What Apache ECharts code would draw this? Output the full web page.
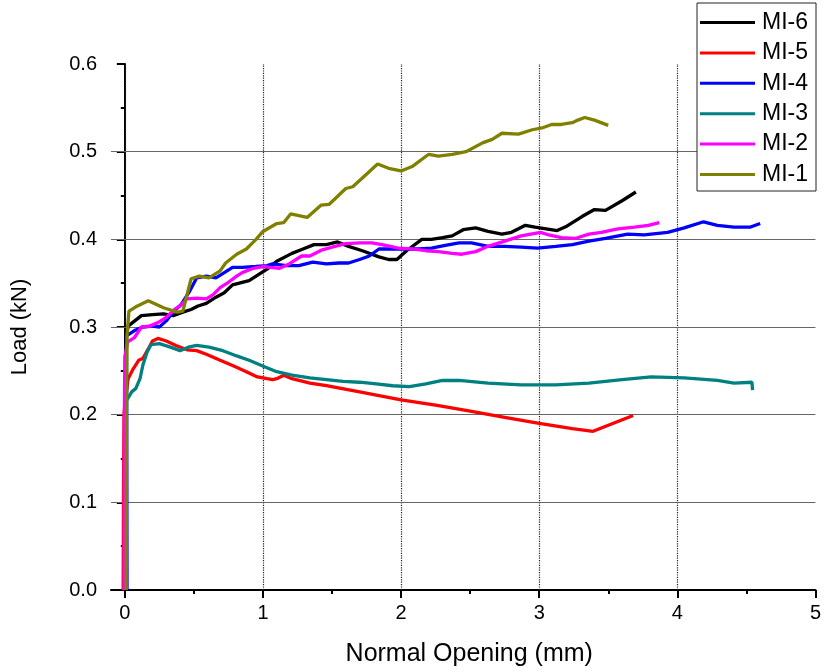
<!DOCTYPE html>
<html>
<head>
<meta charset="utf-8">
<script src="https://cdn.jsdelivr.net/npm/echarts@6/dist/echarts.min.js"></script>
<style>
  html, body { margin: 0; padding: 0; background: #fff; }
  #chart { width: 824px; height: 672px; }
</style>
</head>
<body>
<div id="chart"></div>
<script>
// series names, legend order (top to bottom)
var seriesNames = ['MI-6', 'MI-5', 'MI-4', 'MI-3', 'MI-2', 'MI-1']

// [opening mm, load kN]
var mi6 = [[0.005, 0], [0.008, 0.2], [0.012, 0.29], [0.024, 0.301], [0.12, 0.313], [0.2, 0.314], [0.28, 0.315], [0.35, 0.313], [0.42, 0.317], [0.48, 0.32], [0.53, 0.324], [0.59, 0.327], [0.66, 0.334], [0.72, 0.339], [0.78, 0.348], [0.85, 0.351], [0.9, 0.353], [0.97, 0.36], [1.03, 0.366], [1.1, 0.375], [1.21, 0.384], [1.29, 0.389], [1.37, 0.394], [1.46, 0.394], [1.54, 0.397], [1.62, 0.392], [1.72, 0.387], [1.84, 0.38], [1.91, 0.377], [1.97, 0.377], [2.04, 0.387], [2.15, 0.4], [2.22, 0.4], [2.3, 0.402], [2.37, 0.404], [2.45, 0.411], [2.54, 0.413], [2.63, 0.409], [2.73, 0.406], [2.8, 0.408], [2.9, 0.416], [2.97, 0.414], [3.05, 0.412], [3.13, 0.41], [3.2, 0.415], [3.31, 0.426], [3.4, 0.434], [3.48, 0.433], [3.6, 0.444], [3.7, 0.454]]
var mi5 = [[-0.012, 0], [-0.01, 0.1], [-0.006, 0.2], [0.0, 0.211], [0.024, 0.241], [0.06, 0.252], [0.1, 0.262], [0.13, 0.264], [0.17, 0.275], [0.2, 0.284], [0.24, 0.287], [0.3, 0.284], [0.37, 0.279], [0.45, 0.274], [0.52, 0.273], [0.59, 0.269], [0.69, 0.262], [0.78, 0.256], [0.88, 0.249], [0.96, 0.243], [1.03, 0.241], [1.07, 0.24], [1.1, 0.241], [1.15, 0.245], [1.21, 0.241], [1.34, 0.236], [1.46, 0.233], [1.7, 0.226], [2.0, 0.217], [2.25, 0.211], [2.5, 0.204], [2.75, 0.197], [3.0, 0.19], [3.24, 0.184], [3.39, 0.181], [3.68, 0.199]]
var mi4 = [[0.016, 0], [0.014, 0.2], [0.012, 0.29], [0.07, 0.296], [0.13, 0.3], [0.2, 0.301], [0.25, 0.3], [0.3, 0.307], [0.35, 0.317], [0.41, 0.326], [0.47, 0.341], [0.52, 0.356], [0.59, 0.358], [0.66, 0.356], [0.72, 0.362], [0.78, 0.368], [0.85, 0.368], [0.95, 0.369], [1.03, 0.37], [1.07, 0.372], [1.17, 0.37], [1.26, 0.37], [1.36, 0.374], [1.46, 0.372], [1.55, 0.373], [1.62, 0.373], [1.7, 0.377], [1.77, 0.381], [1.84, 0.389], [1.94, 0.389], [2.03, 0.389], [2.13, 0.389], [2.22, 0.39], [2.32, 0.393], [2.42, 0.396], [2.51, 0.396], [2.63, 0.392], [2.75, 0.392], [2.87, 0.391], [2.99, 0.39], [3.12, 0.392], [3.24, 0.394], [3.36, 0.398], [3.48, 0.401], [3.64, 0.406], [3.76, 0.405], [3.93, 0.408], [4.05, 0.413], [4.19, 0.42], [4.29, 0.416], [4.41, 0.414], [4.53, 0.414], [4.6, 0.418]]
var mi3 = [[0.01, 0], [0.01, 0.1], [0.012, 0.216], [0.05, 0.226], [0.08, 0.23], [0.11, 0.241], [0.13, 0.256], [0.16, 0.271], [0.19, 0.28], [0.25, 0.281], [0.33, 0.277], [0.4, 0.273], [0.46, 0.277], [0.52, 0.279], [0.61, 0.277], [0.71, 0.273], [0.81, 0.267], [0.9, 0.262], [1.02, 0.254], [1.1, 0.249], [1.21, 0.245], [1.34, 0.242], [1.46, 0.24], [1.58, 0.238], [1.7, 0.237], [1.82, 0.235], [1.94, 0.233], [2.06, 0.232], [2.18, 0.235], [2.3, 0.239], [2.42, 0.239], [2.63, 0.236], [2.87, 0.234], [3.12, 0.234], [3.36, 0.236], [3.6, 0.24], [3.81, 0.243], [4.05, 0.242], [4.29, 0.239], [4.41, 0.236], [4.54, 0.237], [4.545, 0.228]]
var mi2 = [[-0.005, 0], [-0.003, 0.2], [0.0, 0.266], [0.02, 0.283], [0.07, 0.288], [0.12, 0.3], [0.18, 0.301], [0.24, 0.305], [0.3, 0.311], [0.36, 0.32], [0.4, 0.324], [0.45, 0.332], [0.52, 0.333], [0.59, 0.332], [0.64, 0.337], [0.69, 0.345], [0.75, 0.351], [0.81, 0.358], [0.85, 0.362], [0.93, 0.367], [1.0, 0.369], [1.05, 0.368], [1.12, 0.367], [1.19, 0.372], [1.28, 0.381], [1.34, 0.381], [1.43, 0.388], [1.5, 0.391], [1.6, 0.395], [1.7, 0.396], [1.79, 0.396], [1.89, 0.393], [1.98, 0.39], [2.08, 0.389], [2.18, 0.387], [2.27, 0.386], [2.37, 0.384], [2.44, 0.383], [2.54, 0.386], [2.63, 0.392], [2.75, 0.398], [2.87, 0.404], [3.01, 0.408], [3.07, 0.405], [3.16, 0.402], [3.26, 0.401], [3.36, 0.406], [3.45, 0.408], [3.57, 0.412], [3.69, 0.414], [3.79, 0.416], [3.87, 0.419]]
var mi1 = [[0.01, 0], [0.012, 0.2], [0.016, 0.29], [0.03, 0.318], [0.08, 0.323], [0.17, 0.33], [0.28, 0.322], [0.38, 0.317], [0.42, 0.318], [0.48, 0.355], [0.54, 0.358], [0.61, 0.356], [0.69, 0.364], [0.73, 0.373], [0.81, 0.383], [0.88, 0.389], [0.95, 0.4], [1.0, 0.409], [1.1, 0.418], [1.15, 0.419], [1.2, 0.429], [1.32, 0.425], [1.42, 0.439], [1.48, 0.44], [1.6, 0.458], [1.65, 0.46], [1.72, 0.47], [1.83, 0.486], [1.91, 0.481], [2.0, 0.478], [2.08, 0.483], [2.2, 0.497], [2.27, 0.495], [2.37, 0.497], [2.47, 0.5], [2.59, 0.51], [2.66, 0.514], [2.73, 0.521], [2.85, 0.52], [2.95, 0.525], [3.02, 0.527], [3.09, 0.531], [3.16, 0.531], [3.24, 0.533], [3.28, 0.536], [3.33, 0.539], [3.4, 0.536], [3.5, 0.53]]

// axis ticks / grid
var xTickValues = [0, 1, 2, 3, 4, 5]
var xMinorTickValues = [0.5, 1.5, 2.5, 3.5, 4.5]
var xGridValues = [0, 1, 2, 3, 4]
var yGridValues = [0.1, 0.2, 0.3, 0.4, 0.5]

var seriesData = [mi6, mi5, mi4, mi3, mi2, mi1]
var colors = ['#000000', '#ff0000', '#0000ff', '#008080', '#ff00ff', '#808000']
var font = 'Liberation Sans, Arial, sans-serif'

var chart = echarts.init(document.getElementById('chart'))

var series = seriesNames.map(function(name, i) {
  return {
    name: name,
    type: 'line',
    data: seriesData[i],
    showSymbol: false,
    symbol: 'none',
    color: colors[i],
    lineStyle: { width: 3.3, color: colors[i] },
    z: 2 + i,
    animation: false
  }
})

// grid lines as mark lines, under the data
series.unshift({
  name: 'grid',
  type: 'line',
  data: [],
  silent: true,
  animation: false,
  markLine: {
    z: 1,
    silent: true,
    symbol: 'none',
    label: { show: false },
    animation: false,
    data: xGridValues.map(function(v) {
      return { xAxis: v, lineStyle: { type: 'dotted', color: '#222', width: 1.2 } }
    }).concat(yGridValues.map(function(v) {
      return { yAxis: v, lineStyle: { type: 'solid', color: '#666', width: 1.2 } }
    }))
  }
})

chart.setOption({
  animation: false,
  textStyle: { fontFamily: font },
  grid: { left: 111, right: 6, top: 64, bottom: 80, containLabel: false },
  legend: {
    data: seriesNames,
    orient: 'vertical',
    left: 697,
    top: 3,
    padding: [8, 8, 5, 3],
    itemGap: 7.4,
    itemWidth: 55,
    itemHeight: 3,
    icon: 'rect',
    backgroundColor: '#fff',
    borderColor: '#222',
    borderWidth: 1,
    textStyle: { fontSize: 23, lineHeight: 23, color: '#000', fontFamily: font, padding: [0, 0, 0, 2] }
  },
  xAxis: [{
    type: 'value',
    min: -0.1,
    max: 5,
    name: 'Normal Opening (mm)',
    nameLocation: 'middle',
    nameGap: 52,
    nameTextStyle: { fontSize: 25, color: '#000', fontFamily: font, padding: [0, 0, 0, 12] },
    axisLine: { show: true, onZero: false, lineStyle: { color: '#000', width: 2 } },
    axisTick: { show: true, customValues: xTickValues, length: 8, lineStyle: { color: '#000', width: 2 } },
    axisLabel: { customValues: xTickValues, fontSize: 20, color: '#000', margin: 13, fontFamily: font },
    splitLine: { show: false }
  }, {
    type: 'value',
    min: -0.1,
    max: 5,
    position: 'bottom',
    axisLine: { show: false, onZero: false },
    axisTick: { show: true, customValues: xMinorTickValues, length: 4, lineStyle: { color: '#000', width: 2 } },
    axisLabel: { show: false },
    splitLine: { show: false }
  }],
  yAxis: {
    type: 'value',
    min: 0,
    max: 0.6,
    interval: 0.1,
    name: 'Load (kN)',
    nameLocation: 'middle',
    nameGap: 80,
    nameTextStyle: { fontSize: 22, color: '#000', fontFamily: font },
    axisLine: { show: true, lineStyle: { color: '#000', width: 2 } },
    axisTick: { show: true, length: 8, lineStyle: { color: '#000', width: 2 } },
    minorTick: { show: true, splitNumber: 2, length: 4, lineStyle: { color: '#000', width: 2 } },
    axisLabel: {
      fontSize: 20, color: '#000', margin: 14, fontFamily: font,
      formatter: function(v) { return v.toFixed(1) }
    },
    splitLine: { show: false }
  },
  series: series
})
</script>
</body>
</html>
